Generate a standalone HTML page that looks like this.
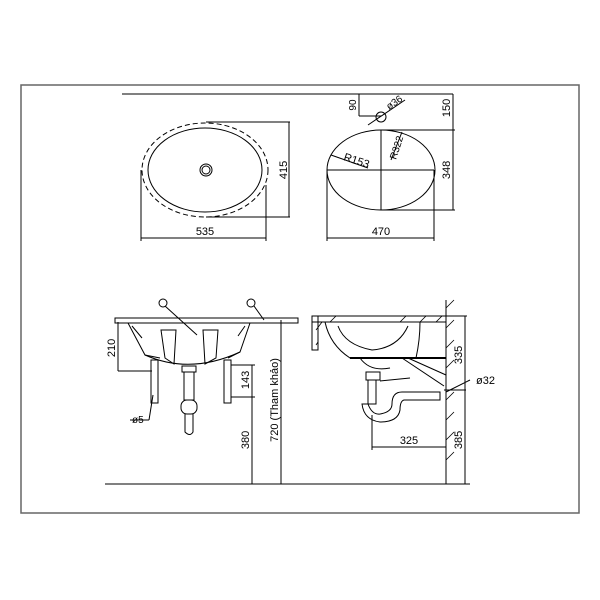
<!DOCTYPE html>
<html><head><style>body{margin:0;background:#fff}svg{display:block}text{font-family:"Liberation Sans",sans-serif;font-size:11px;fill:#000}</style></head>
<body>
<svg width="600" height="600" viewBox="0 0 600 600" xmlns="http://www.w3.org/2000/svg" fill="none" stroke="#000" stroke-width="1">
<rect x="21" y="85" width="558" height="428" stroke="#666" stroke-width="1.5"/>
<!-- top line -->
<line x1="122" y1="94" x2="453" y2="94"/>
<!-- top-left view -->
<ellipse cx="205" cy="170" rx="63" ry="47" stroke-dasharray="5,3"/>
<ellipse cx="205" cy="170" rx="57" ry="42"/>
<circle cx="206" cy="170" r="6"/><circle cx="206" cy="170" r="4"/>
<line x1="206" y1="122" x2="290" y2="122"/><line x1="206" y1="217" x2="290" y2="217"/>
<line x1="289" y1="122" x2="289" y2="217"/>
<line x1="141" y1="170" x2="141" y2="241"/><line x1="266" y1="185" x2="266" y2="241"/>
<line x1="141" y1="238" x2="266" y2="238"/>
<text x="205" y="235" text-anchor="middle" stroke="none">535</text>
<text transform="translate(287,170) rotate(-90)" text-anchor="middle" stroke="none">415</text>
<!-- top-right view -->
<ellipse cx="381" cy="170" rx="54" ry="40"/>
<line x1="327" y1="170" x2="434" y2="170"/><line x1="381" y1="130" x2="381" y2="210"/>
<line x1="331" y1="155" x2="368" y2="168"/>
<text transform="translate(343,160) rotate(18)" stroke="none">R153</text>
<line x1="402" y1="132" x2="391" y2="160"/>
<text transform="translate(396,160) rotate(-72)" stroke="none" style="font-size:10px">R322</text>
<line x1="381" y1="130" x2="455" y2="130"/><line x1="381" y1="210" x2="455" y2="210"/>
<line x1="453" y1="94" x2="453" y2="210"/>
<text transform="translate(450,170) rotate(-90)" text-anchor="middle" stroke="none">348</text>
<text transform="translate(450,108) rotate(-90)" text-anchor="middle" stroke="none">150</text>
<line x1="359" y1="94" x2="359" y2="116"/><line x1="359" y1="116" x2="381" y2="116"/>
<text transform="translate(356,105) rotate(-90)" text-anchor="middle" stroke="none" style="font-size:10px">90</text>
<circle cx="381" cy="117" r="5"/>
<line x1="368" y1="125" x2="405" y2="100"/>
<text transform="translate(389,110) rotate(-34)" stroke="none" style="font-size:10px">ø36</text>
<line x1="327" y1="170" x2="327" y2="241"/><line x1="434" y1="170" x2="434" y2="241"/>
<line x1="327" y1="238" x2="434" y2="238"/>
<text x="381" y="235" text-anchor="middle" stroke="none">470</text>
<!-- bottom-left -->
<rect x="115" y="318" width="183" height="5"/>
<path d="M128 323 L145 355 L160 358 M228 358 L240 352 L250 323"/>
<path d="M145 355 Q190 375 240 352"/>
<path d="M161 330 L176 330 L174 364 L165 358 Z"/>
<path d="M203 330 L218 330 L216 358 L205 364 Z"/>
<path d="M132 326 L142 338 M245 326 L238 336"/>
<circle cx="163" cy="303" r="4"/><line x1="165" y1="306" x2="197" y2="335"/>
<circle cx="251" cy="303" r="4"/><line x1="254" y1="306" x2="264" y2="320"/>
<line x1="118" y1="322" x2="118" y2="371"/><line x1="118" y1="371" x2="152" y2="371"/>
<text transform="translate(115,348) rotate(-90)" text-anchor="middle" stroke="none">210</text>
<rect x="151" y="360" width="7" height="43"/><rect x="224" y="360" width="7" height="43"/>
<line x1="153" y1="395" x2="149" y2="420"/><line x1="130" y1="420" x2="149" y2="420"/>
<text x="132" y="423" stroke="none" style="font-size:10px">ø5</text>
<rect x="182" y="366" width="14" height="6"/>
<rect x="184" y="372" width="10" height="28"/><rect x="181" y="400" width="16" height="14" rx="6"/>
<path d="M185 414 L185 432 Q190 437 193 432 L193 414"/>
<line x1="231" y1="365" x2="255" y2="365"/><line x1="231" y1="397" x2="255" y2="397"/>
<line x1="252" y1="365" x2="252" y2="484"/>
<text transform="translate(249,380) rotate(-90)" text-anchor="middle" stroke="none">143</text>
<text transform="translate(249,440) rotate(-90)" text-anchor="middle" stroke="none">380</text>
<line x1="281" y1="320" x2="281" y2="484"/>
<text transform="translate(278,400) rotate(-90)" text-anchor="middle" stroke="none">720 (Tham khảo)</text>
<line x1="105" y1="484" x2="470" y2="484"/>
<!-- bottom-right -->
<line x1="446" y1="300" x2="446" y2="484"/>
<g stroke-width="0.8">
<path d="M446 308 l8 -8 M446 328 l8 -8 M446 348 l8 -8 M446 368 l8 -8 M446 400 l8 -8 M446 420 l8 -8 M446 440 l8 -8 M446 460 l8 -8"/>
<path d="M316 330 l6 -8 M316 345 l2 -3 M330 322 l6 -6 M400 322 l6 -6 M420 322 l6 -6 M436 322 l6 -6"/>
</g>
<rect x="312" y="316" width="134" height="6"/>
<rect x="312" y="316" width="6" height="34"/>
<path d="M325 322 Q330 345 350 358 L416 358 Q420 340 420 322"/>
<path d="M338 326 Q345 345 372 350 Q398 348 408 326"/>
<line x1="350" y1="358" x2="446" y2="358" stroke-width="2"/>
<path d="M402 358 L444 386 M408 358 L446 375"/>
<path d="M360 358 Q370 372 390 368"/>
<rect x="366" y="372" width="14" height="8"/><rect x="368" y="380" width="8" height="24"/>
<line x1="380" y1="381" x2="410" y2="378"/>
<path d="M368 404 Q372 415 380 414 Q392 412 392 404 Q392 392 402 392 L440 392 L440 400 L404 400 Q400 401 400 410 Q398 422 380 422 Q364 420 362 404 Z"/>
<line x1="444" y1="390" x2="466" y2="390"/>
<line x1="446" y1="392" x2="470" y2="380"/>
<text x="476" y="384" stroke="none">ø32</text>
<line x1="465" y1="316" x2="465" y2="484"/><line x1="446" y1="316" x2="467" y2="316"/>
<text transform="translate(462,355) rotate(-90)" text-anchor="middle" stroke="none">335</text>
<text transform="translate(462,440) rotate(-90)" text-anchor="middle" stroke="none">385</text>
<line x1="372" y1="415" x2="372" y2="450"/>
<line x1="372" y1="447" x2="446" y2="447"/>
<text x="409" y="444" text-anchor="middle" stroke="none">325</text>
</svg>
</body></html>
